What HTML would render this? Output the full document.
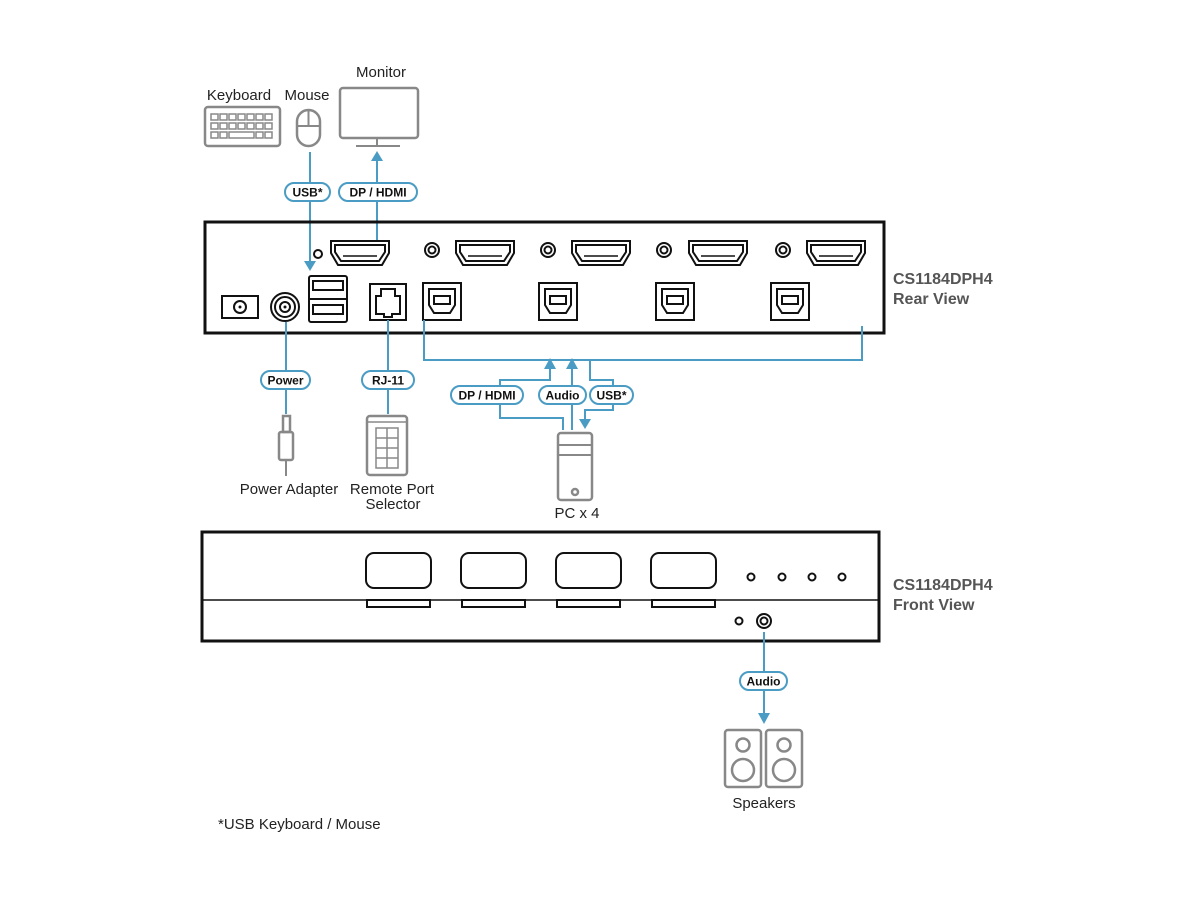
<!DOCTYPE html>
<html><head><meta charset="utf-8"><style>
body{margin:0;background:#fff}
svg{display:block}
text{font-family:"Liberation Sans",Arial,sans-serif}
.l{font-size:15px;fill:#222;text-anchor:middle}
.p{font-size:12px;font-weight:bold;fill:#111;text-anchor:middle}
.t{font-size:16px;font-weight:bold;fill:#555}
.g{fill:none;stroke:#888;stroke-width:2.5}
.b{fill:none;stroke:#4a9cc4;stroke-width:2}
.k{fill:none;stroke:#111;stroke-width:2}
.pill{fill:#fff;stroke:#4a9cc4;stroke-width:2}
</style></head><body>
<svg width="1200" height="900" viewBox="0 0 1200 900">
<defs>
<g id="hd"><path d="M-29,0 H29 V12 L22,24 H-22 L-29,12 Z" class="k"/><path d="M-25,4 H25 V11 L19,20 H-19 L-25,11 Z" class="k" stroke-width="1.2"/><line x1="-17" y1="15" x2="17" y2="15" stroke="#111" stroke-width="1.5"/></g>
<g id="ub"><rect x="-19" y="0" width="38" height="37" class="k"/><path d="M-13,6 H13 V22 L8,30 H-8 L-13,22 Z" class="k" stroke-width="1.5"/><rect x="-8" y="13" width="16" height="8" class="k" stroke-width="1.5"/></g>
<g id="jk"><circle r="7" class="k"/><circle r="3.5" class="k" stroke-width="1.5"/></g>
</defs>

<text x="239" y="100" class="l">Keyboard</text>
<text x="307" y="100" class="l">Mouse</text>
<text x="381" y="77" class="l">Monitor</text>
<rect x="205" y="107" width="75" height="39" rx="3" class="g"/>
<g fill="none" stroke="#888" stroke-width="1.5">
<rect x="211" y="114" width="7" height="6"/><rect x="220" y="114" width="7" height="6"/><rect x="229" y="114" width="7" height="6"/><rect x="238" y="114" width="7" height="6"/><rect x="247" y="114" width="7" height="6"/><rect x="256" y="114" width="7" height="6"/><rect x="265" y="114" width="7" height="6"/>
<rect x="211" y="123" width="7" height="6"/><rect x="220" y="123" width="7" height="6"/><rect x="229" y="123" width="7" height="6"/><rect x="238" y="123" width="7" height="6"/><rect x="247" y="123" width="7" height="6"/><rect x="256" y="123" width="7" height="6"/><rect x="265" y="123" width="7" height="6"/>
<rect x="211" y="132" width="7" height="6"/><rect x="220" y="132" width="7" height="6"/><rect x="229" y="132" width="25" height="6"/><rect x="256" y="132" width="7" height="6"/><rect x="265" y="132" width="7" height="6"/>
</g>
<rect x="297" y="110" width="23" height="36" rx="11.5" class="g"/>
<line x1="297" y1="126" x2="320" y2="126" stroke="#888" stroke-width="2"/><line x1="308.5" y1="110" x2="308.5" y2="126" stroke="#888" stroke-width="2"/>
<rect x="340" y="88" width="78" height="50" rx="3" class="g"/>
<line x1="377" y1="138" x2="377" y2="146" stroke="#888" stroke-width="2"/><line x1="356" y1="146" x2="400" y2="146" stroke="#888" stroke-width="2"/>

<line x1="310" y1="152" x2="310" y2="262" class="b"/>
<path d="M304,261 H316 L310,271 Z" fill="#4a9cc4"/>
<line x1="377" y1="160" x2="377" y2="240" class="b"/>
<path d="M371,161 H383 L377,151 Z" fill="#4a9cc4"/>
<rect x="285" y="183" width="45" height="18" rx="9" class="pill"/><text x="307.5" y="196.5" class="p">USB*</text>
<rect x="339" y="183" width="78" height="18" rx="9" class="pill"/><text x="378" y="196.5" class="p">DP / HDMI</text>

<rect x="205" y="222" width="679" height="111" fill="none" stroke="#111" stroke-width="3"/>
<circle cx="318" cy="254" r="4" class="k" stroke-width="1.5"/>
<use href="#hd" x="360" y="241"/><use href="#hd" x="485" y="241"/><use href="#hd" x="601" y="241"/><use href="#hd" x="718" y="241"/><use href="#hd" x="836" y="241"/>
<use href="#jk" x="432" y="250"/><use href="#jk" x="548" y="250"/><use href="#jk" x="664" y="250"/><use href="#jk" x="783" y="250"/>
<use href="#ub" x="442" y="283"/><use href="#ub" x="558" y="283"/><use href="#ub" x="675" y="283"/><use href="#ub" x="790" y="283"/>
<rect x="222" y="296" width="36" height="22" class="k"/><circle cx="240" cy="307" r="6" class="k" stroke-width="1.5"/><circle cx="240" cy="307" r="1.5" fill="#111"/>
<circle cx="285" cy="307" r="14" class="k"/><circle cx="285" cy="307" r="10" class="k" stroke-width="1.5"/><circle cx="285" cy="307" r="5" class="k" stroke-width="1.5"/><circle cx="285" cy="307" r="1.5" fill="#111"/>
<rect x="309" y="276" width="38" height="46" rx="2" class="k"/><line x1="309" y1="299" x2="347" y2="299" stroke="#111" stroke-width="2"/>
<rect x="313" y="281" width="30" height="9" class="k" stroke-width="1.5"/><rect x="313" y="305" width="30" height="9" class="k" stroke-width="1.5"/>
<rect x="370" y="284" width="36" height="36" class="k"/>
<path d="M376,296 H381 V289 H395 V296 H400 V314 H392 V317 H384 V314 H376 Z" class="k" stroke-width="1.5"/>

<line x1="286" y1="322" x2="286" y2="414" class="b"/>
<rect x="261" y="371" width="49" height="18" rx="9" class="pill"/><text x="285.5" y="384.5" class="p">Power</text>
<line x1="388" y1="320" x2="388" y2="414" class="b"/>
<rect x="362" y="371" width="52" height="18" rx="9" class="pill"/><text x="388" y="384.5" class="p">RJ-11</text>
<path d="M424,320 V360 H862 V326" class="b"/>
<path d="M500,386 V380 H550 V366" class="b"/>
<path d="M544,369 H556 L550,358 Z" fill="#4a9cc4"/>
<path d="M572,430 V366" class="b"/>
<path d="M566,369 H578 L572,358 Z" fill="#4a9cc4"/>
<path d="M590,360 V380 H613 V410 H585 V420" class="b"/>
<path d="M579,419 H591 L585,429 Z" fill="#4a9cc4"/>
<path d="M500,404 V418 H563 V430" class="b"/>
<rect x="451" y="386" width="72" height="18" rx="9" class="pill"/><text x="487" y="399.5" class="p">DP / HDMI</text>
<rect x="539" y="386" width="47" height="18" rx="9" class="pill"/><text x="562.5" y="399.5" class="p">Audio</text>
<rect x="590" y="386" width="43" height="18" rx="9" class="pill"/><text x="611.5" y="399.5" class="p">USB*</text>

<rect x="283" y="416" width="7" height="16" class="g" stroke-width="2"/>
<rect x="279" y="432" width="14" height="28" rx="2" class="g" stroke-width="2"/>
<line x1="286" y1="460" x2="286" y2="476" stroke="#888" stroke-width="2"/>
<text x="289" y="494" class="l">Power Adapter</text>
<rect x="367" y="416" width="40" height="59" rx="3" class="g"/>
<line x1="367" y1="422" x2="407" y2="422" stroke="#888" stroke-width="1.5"/>
<g fill="none" stroke="#888" stroke-width="1.5"><rect x="376" y="428" width="22" height="40"/><line x1="387" y1="428" x2="387" y2="468"/><line x1="376" y1="438" x2="398" y2="438"/><line x1="376" y1="448" x2="398" y2="448"/><line x1="376" y1="458" x2="398" y2="458"/></g>
<text x="392" y="494" class="l">Remote Port</text><text x="393" y="509" class="l">Selector</text>
<rect x="558" y="433" width="34" height="67" rx="3" class="g"/>
<line x1="558" y1="445" x2="592" y2="445" stroke="#888" stroke-width="2"/><line x1="558" y1="455" x2="592" y2="455" stroke="#888" stroke-width="2"/>
<circle cx="575" cy="492" r="3" class="g" stroke-width="1.5"/>
<text x="577" y="518" class="l">PC x 4</text>

<text x="893" y="284" class="t">CS1184DPH4</text>
<text x="893" y="304" class="t">Rear View</text>

<rect x="202" y="532" width="677" height="109" fill="none" stroke="#111" stroke-width="3"/>
<line x1="202" y1="600" x2="879" y2="600" stroke="#111" stroke-width="1.5"/>
<g class="k" stroke-width="1.5">
<rect x="366" y="553" width="65" height="35" rx="8"/><rect x="461" y="553" width="65" height="35" rx="8"/><rect x="556" y="553" width="65" height="35" rx="8"/><rect x="651" y="553" width="65" height="35" rx="8"/>
<rect x="367" y="600" width="63" height="7"/><rect x="462" y="600" width="63" height="7"/><rect x="557" y="600" width="63" height="7"/><rect x="652" y="600" width="63" height="7"/>
<circle cx="751" cy="577" r="3.5"/><circle cx="782" cy="577" r="3.5"/><circle cx="812" cy="577" r="3.5"/><circle cx="842" cy="577" r="3.5"/>
<circle cx="739" cy="621" r="3.5"/>
</g>
<circle cx="764" cy="621" r="7" class="k"/><circle cx="764" cy="621" r="3.5" class="k" stroke-width="1.5"/>
<text x="893" y="590" class="t">CS1184DPH4</text>
<text x="893" y="610" class="t">Front View</text>

<line x1="764" y1="632" x2="764" y2="714" class="b"/>
<path d="M758,713 H770 L764,724 Z" fill="#4a9cc4"/>
<rect x="740" y="672" width="47" height="18" rx="9" class="pill"/><text x="763.5" y="685.5" class="p">Audio</text>
<rect x="725" y="730" width="36" height="57" rx="3" class="g"/><circle cx="743" cy="745" r="6.5" class="g" stroke-width="2"/><circle cx="743" cy="770" r="11" class="g" stroke-width="2"/>
<rect x="766" y="730" width="36" height="57" rx="3" class="g"/><circle cx="784" cy="745" r="6.5" class="g" stroke-width="2"/><circle cx="784" cy="770" r="11" class="g" stroke-width="2"/>
<text x="764" y="808" class="l">Speakers</text>

<text x="218" y="829" font-size="15" fill="#222">*USB Keyboard / Mouse</text>
</svg>
</body></html>
